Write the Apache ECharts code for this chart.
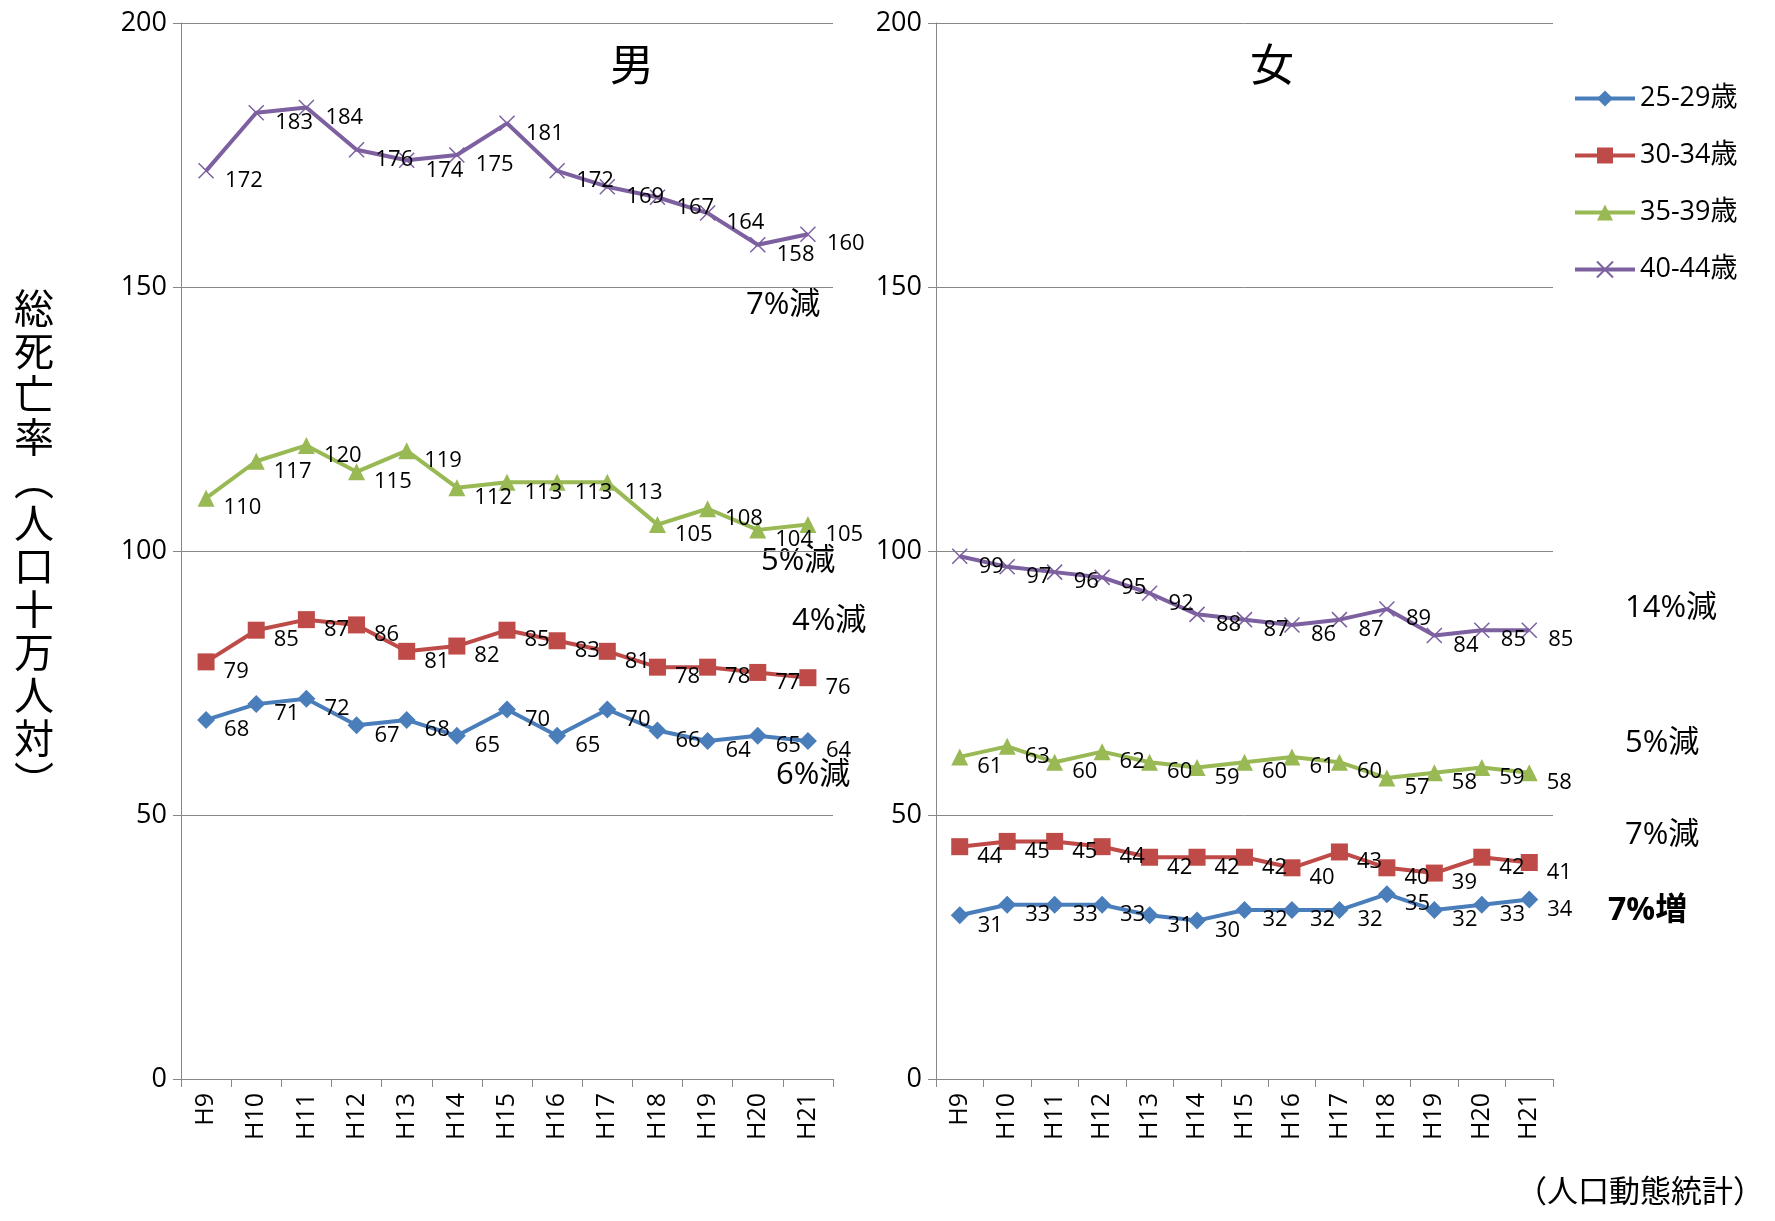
<!DOCTYPE html>
<html>
<head>
<meta charset="utf-8">
<script src="https://cdn.jsdelivr.net/npm/echarts@6/dist/echarts.min.js"></script>
<style>html,body{margin:0;background:#fff}#c{width:1775px;height:1221px}</style>
</head>
<body>
<div id="c"></div>
<script>
var years = ['H9','H10','H11','H12','H13','H14','H15','H16','H17','H18','H19','H20','H21'];
var seriesNames = ['25-29歳','30-34歳','35-39歳','40-44歳'];
var yTicks = [0, 50, 100, 150, 200];
var male25 = [68,71,72,67,68,65,70,65,70,66,64,65,64];
var male30 = [79,85,87,86,81,82,85,83,81,78,78,77,76];
var male35 = [110,117,120,115,119,112,113,113,113,105,108,104,105];
var male40 = [172,183,184,176,174,175,181,172,169,167,164,158,160];
var female25 = [31,33,33,33,31,30,32,32,32,35,32,33,34];
var female30 = [44,45,45,44,42,42,42,40,43,40,39,42,41];
var female35 = [61,63,60,62,60,59,60,61,60,57,58,59,58];
var female40 = [99,97,96,95,92,88,87,86,87,89,84,85,85];

var colors = ['#4A7EBB','#BE4B48','#98B954','#7D60A0'];
var symbols = ['diamond','rect','triangle','path://M0,0L2,2M2,0L0,2'];
var font = '"Open Sans","Noto Sans CJK JP",sans-serif';

var chart = echarts.init(document.getElementById('c'));

function axes(idx) {
  return {
    x: {
      type: 'category', gridIndex: idx, data: years, boundaryGap: true,
      axisLine: {lineStyle: {color: '#888'}},
      axisTick: {show: true, interval: 0, length: 8, lineStyle: {color: '#888'}},
      axisLabel: {rotate: 90, color: '#000', fontSize: 25, fontFamily: font, margin: 14}
    },
    y: {
      type: 'value', gridIndex: idx, min: 0, max: 200, interval: 50,
      axisLine: {show: true, lineStyle: {color: '#888'}},
      axisTick: {show: true, length: 8, lineStyle: {color: '#888'}},
      splitLine: {lineStyle: {color: '#888', width: 1}},
      axisLabel: {color: '#000', fontSize: 27, fontFamily: font, margin: 14}
    }
  };
}
var a0 = axes(0), a1 = axes(1);

function mk(name, data, i, g) {
  var isX = i === 3;
  return {
    name: name, type: 'line', data: data, xAxisIndex: g, yAxisIndex: g,
    symbol: symbols[i], symbolSize: isX ? 15 : (i === 0 ? 18 : 17),
    itemStyle: isX ? {color: 'none', borderColor: colors[i], borderWidth: 1.5} : {color: colors[i]},
    lineStyle: {color: colors[i], width: 4},
    label: {show: true, position: 'right', offset: [4, 10], color: '#000', fontSize: 22, fontFamily: font},
    emphasis: {disabled: true}, animation: false
  };
}
var male = [male25, male30, male35, male40];
var female = [female25, female30, female35, female40];
var series = [];
for (var i = 0; i < 4; i++) series.push(mk(seriesNames[i], male[i], i, 0));
for (var j = 0; j < 4; j++) series.push(mk(seriesNames[j], female[j], j, 1));

function txt(x, y, t, size, bold) {
  return {type: 'text', left: x, top: y, style: {text: t, fill: '#000', font: (bold ? 'bold ' : '') + size + 'px ' + font}};
}
var notes = [
  txt(746, 290, '7%減', 31), txt(761, 546, '5%減', 31), txt(792, 606, '4%減', 31), txt(776, 760, '6%減', 31),
  txt(1625, 593, '14%減', 31), txt(1625, 728, '5%減', 31), txt(1625, 820, '7%減', 31), txt(1608, 895, '7%増', 32, true),
  txt(610, 46, '男', 44), txt(1250, 46, '女', 44),
  {type: 'text', left: 14, top: 290, style: {text: '総\n死\n亡\n率\n︵\n人\n口\n十\n万\n人\n対\n︶', fill: '#000', font: '40px ' + font, lineHeight: 43}},
  txt(1516, 1178, '（人口動態統計）', 31)
];

chart.setOption({
  animation: false,
  grid: [
    {left: 181, top: 23, width: 652, height: 1056},
    {left: 936, top: 23, width: 617, height: 1056}
  ],
  xAxis: [a0.x, a1.x],
  yAxis: [a0.y, a1.y],
  legend: {
    data: seriesNames, orient: 'vertical', left: 1568, top: 80, itemGap: 30,
    itemWidth: 60, itemHeight: 20, lineStyle: {width: 4},
    textStyle: {fontSize: 27, fontFamily: font, color: '#000'}
  },
  graphic: notes,
  series: series
});
</script>
</body>
</html>
